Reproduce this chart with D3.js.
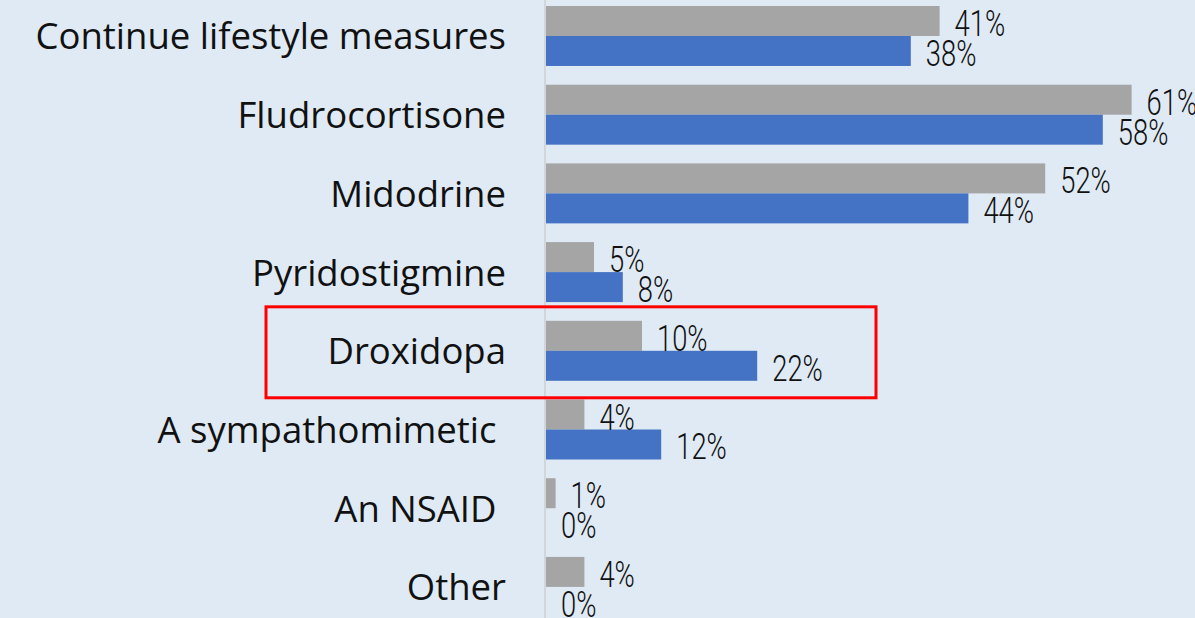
<!DOCTYPE html>
<html>
<head>
<meta charset="utf-8">
<script src="https://cdn.jsdelivr.net/npm/d3@7"></script>
<style>
  html, body { margin: 0; padding: 0; background: #dfeaf5; }
  svg { display: block; }
</style>
</head>
<body>
<svg id="chart" width="1195" height="618"></svg>
<script>
const categories = ["Continue lifestyle measures", "Fludrocortisone", "Midodrine", "Pyridostigmine", "Droxidopa", "A sympathomimetic ", "An NSAID ", "Other"];
const seriesNames = ["Series A", "Series B"];
const seriesA = [41, 61, 52, 5, 10, 4, 1, 4];
const seriesB = [38, 58, 44, 8, 22, 12, 0, 0];
const highlighted = "Droxidopa";

const W = 1195, H = 618;
const svg = d3.select("#chart");
svg.append("rect").attr("width", W).attr("height", H).attr("fill", "#dfeaf5");

const x = d3.scaleLinear().domain([0, 100]).range([546, 1506]);
const y = d3.scaleBand().domain(categories).range([6, 616.9]).paddingInner(0.238).paddingOuter(0);
const ySub = d3.scaleBand().domain(seriesNames).range([0, y.bandwidth()]).padding(0);
const colors = { "Series A": "#a5a5a5", "Series B": "#4472c4" };

const rows = categories.map((c, i) => ({ cat: c, vals: [
  { s: "Series A", v: seriesA[i] },
  { s: "Series B", v: seriesB[i] }
]}));

// axis line
svg.append("line")
  .attr("x1", x(0) - 1).attr("x2", x(0) - 1)
  .attr("y1", 0).attr("y2", H)
  .attr("stroke", "#d2d6db").attr("stroke-width", 2);

const g = svg.selectAll("g.row").data(rows).join("g")
  .attr("class", "row")
  .attr("transform", d => `translate(0,${y(d.cat)})`);

g.selectAll("rect.bar").data(d => d.vals).join("rect")
  .attr("class", "bar")
  .attr("x", x(0))
  .attr("y", d => ySub(d.s))
  .attr("width", d => x(d.v) - x(0))
  .attr("height", ySub.bandwidth())
  .attr("fill", d => colors[d.s]);

g.selectAll("text.val").data(d => d.vals).join("text")
  .attr("class", "val")
  .attr("transform", d => `translate(${x(d.v) + 15},${ySub(d.s) + ySub.bandwidth()}) scale(0.74,1)`)
  .attr("font-family", "Roboto, 'DejaVu Sans', sans-serif")
  .attr("font-weight", 300)
  .attr("font-size", 37)
  .attr("fill", "#111")
  .text(d => d.v + "%");

// category labels
svg.selectAll("text.cat").data(categories).join("text")
  .attr("class", "cat")
  .attr("x", 506)
  .attr("y", d => y(d) + y.bandwidth() / 2)
  .attr("dy", "0.37em")
  .attr("text-anchor", "end")
  .attr("font-family", "'Open Sans', Lato, sans-serif")
  .attr("font-size", 36.5)
  .style("white-space", "pre")
  .attr("fill", "#111")
  .text(d => d);

// highlight box
svg.append("rect")
  .attr("x", 266)
  .attr("y", y(highlighted) - 14)
  .attr("width", 610)
  .attr("height", y.bandwidth() + 31)
  .attr("fill", "none")
  .attr("stroke", "#ff0000")
  .attr("stroke-width", 3);
</script>
</body>
</html>
